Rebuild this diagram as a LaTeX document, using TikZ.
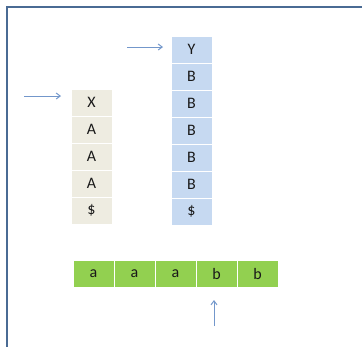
\documentclass[tikz,border=0pt]{standalone}
\usepackage{fontspec}
\setmainfont{Carlito}
\usepackage{tikz}
\usetikzlibrary{arrows.meta}

\definecolor{framecol}{HTML}{4A6B94}
\definecolor{arrowcol}{HTML}{7397CB}
\definecolor{stackA}{HTML}{EEECE1}
\definecolor{stackB}{HTML}{C6D9F1}
\definecolor{tapecol}{HTML}{92D050}

\tikzset{
  cell/.style={draw=white, line width=1pt, minimum width=41pt, minimum height=27pt,
    inner sep=0pt, font=\fontsize{16}{18}\selectfont, text=black!90},
  pointer/.style={-{Straight Barb[length=4pt,width=6pt]}, draw=arrowcol, line width=1pt}
}

\begin{document}
\begin{tikzpicture}[x=1pt,y=-1pt]
  \useasboundingbox (0,0) rectangle (362,346);
  \draw[framecol, line width=2pt] (7,347) -- (7,7) -- (363,7);
  % left stack
  \foreach \s [count=\i from 0] in {X,A,A,A,\$}
    \node[cell, fill=stackA] (l\i) at (91.5,102.5+27*\i) {\s};
  % right stack
  \foreach \s [count=\i from 0] in {Y,B,B,B,B,B,\$}
    \node[cell, fill=stackB] (r\i) at (191.5,49.5+27*\i) {\s};
  % input tape
  \foreach \s [count=\i from 0] in {a,a,a,b,b}
    \node[cell, fill=tapecol] (t\i) at (93.5+41*\i,273.5) {\s};
  % pointers
  \coordinate (pl0) at (24,96);  \coordinate (pl1) at (61,96);
  \coordinate (pr0) at (127,47); \coordinate (pr1) at (163,47);
  \coordinate (pt0) at (214,326); \coordinate (pt1) at (214,300);
  \draw[pointer] (pl0) -- (pl1);
  \draw[pointer] (pr0) -- (pr1);
  \draw[pointer] (pt0) -- (pt1);
\end{tikzpicture}
\end{document}
